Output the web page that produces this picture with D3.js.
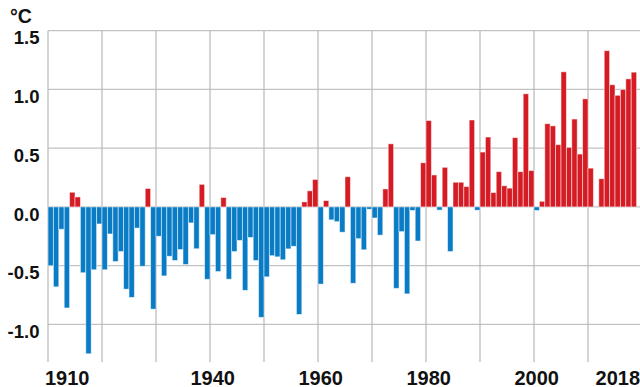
<!DOCTYPE html>
<html>
<head>
<meta charset="utf-8">
<script src="https://cdn.jsdelivr.net/npm/d3@7/dist/d3.min.js"></script>
<style>
  html, body { margin: 0; padding: 0; background: #fff; }
  svg { display: block; }
  text { font-family: "Liberation Sans", Arial, sans-serif; font-weight: bold; fill: #111; }
</style>
</head>
<body>
<svg id="chart" width="640" height="387"></svg>
<script>
// ---- data ----
const years = d3.range(1910, 2019);
const anomalies = [
  -0.50, -0.68, -0.19, -0.86, 0.125, 0.085, -0.56, -1.25, -0.535, -0.145,
  -0.535, -0.23, -0.465, -0.38, -0.70, -0.77, -0.18, -0.505, 0.157, -0.87,
  -0.25, -0.587, -0.42, -0.456, -0.363, -0.49, -0.136, -0.356, 0.192, -0.616,
  -0.236, -0.55, 0.08, -0.615, -0.38, -0.285, -0.71, -0.26, -0.456, -0.94,
  -0.595, -0.415, -0.425, -0.45, -0.357, -0.335, -0.915, 0.043, 0.137, 0.234,
  -0.657, 0.054, -0.11, -0.125, -0.215, 0.257, -0.65, -0.27, -0.365, -0.02,
  -0.094, -0.24, 0.153, 0.537, -0.693, -0.21, -0.74, -0.03, -0.29, 0.376,
  0.735, 0.272, -0.027, 0.337, -0.38, 0.21, 0.21, 0.173, 0.74, -0.028,
  0.467, 0.595, 0.122, 0.30, 0.18, 0.16, 0.59, 0.30, 0.963, 0.31,
  -0.03, 0.048, 0.708, 0.69, 0.53, 1.15, 0.507, 0.748, 0.45, 0.92,
  0.33, 0.0, 0.24, 1.33, 1.04, 0.95, 1.0, 1.09, 1.147
];
const yTicks = [1.5, 1.0, 0.5, 0.0, -0.5, -1.0];
const yTickLabels = ["1.5", "1.0", "0.5", "0.0", "-0.5", "-1.0"];
const xGridYears = [1910, 1920, 1930, 1940, 1950, 1960, 1970, 1980, 1990, 2000, 2010];
const xLabelYears = [1910, 1940, 1960, 1980, 2000, 2018];
const unitLabel = "°C";

const data = years.map((y, i) => ({ year: y, value: anomalies[i] }));

// ---- layout ----
const plotLeft = 48, plotRight = 640, plotTop = 30.7, plotBottom = 362;
const barStep = 5.4;

const svg = d3.select("#chart");

const x = d3.scaleBand()
  .domain(years)
  .range([plotLeft, plotLeft + years.length * barStep])
  .paddingInner(0).paddingOuter(0);

const y = d3.scaleLinear()
  .domain([-1.32, 1.5])
  .range([plotBottom, plotTop]);

// grid
const grid = svg.append("g");
grid.selectAll("line.h").data(yTicks).enter().append("line")
  .attr("x1", plotLeft).attr("x2", plotRight)
  .attr("y1", d => y(d)).attr("y2", d => y(d))
  .attr("stroke", "#c2c2c2").attr("stroke-width", 1.2);
grid.selectAll("line.v").data(xGridYears).enter().append("line")
  .attr("x1", d => x(d)).attr("x2", d => x(d))
  .attr("y1", plotTop).attr("y2", plotBottom)
  .attr("stroke", "#b8b8b8").attr("stroke-width", 1.2);

// bars
svg.append("g").selectAll("rect").data(data).enter().append("rect")
  .attr("x", d => x(d.year))
  .attr("width", x.bandwidth())
  .attr("y", d => y(Math.max(0, d.value)))
  .attr("height", d => Math.abs(y(d.value) - y(0)))
  .attr("fill", d => d.value >= 0 ? "#d51b23" : "#0a7cc5")
  .attr("stroke", "rgba(255,255,255,0.55)")
  .attr("stroke-width", 0.9);

// y labels (top of text aligned with gridline)
svg.append("g").selectAll("text").data(yTicks).enter().append("text")
  .attr("x", 39.5)
  .attr("y", d => y(d) + 13.6)
  .attr("text-anchor", "end")
  .attr("font-size", 18.5)
  .text((d, i) => yTickLabels[i]);

// unit label
svg.append("text")
  .attr("x", 10).attr("y", 22.5)
  .attr("font-size", 19.5)
  .text(unitLabel);

// x labels
const lastYear = years[years.length - 1];
svg.append("g").selectAll("text").data(xLabelYears).enter().append("text")
  .attr("x", d => {
    if (d === years[0]) return x(d) - 3;
    if (d === lastYear) return x(d) + x.bandwidth() + 3.5;
    return x(d) + x.bandwidth() / 2;
  })
  .attr("y", 384.5)
  .attr("text-anchor", d => d === years[0] ? "start" : (d === lastYear ? "end" : "middle"))
  .attr("font-size", 20)
  .text(d => d);
</script>
</body>
</html>
